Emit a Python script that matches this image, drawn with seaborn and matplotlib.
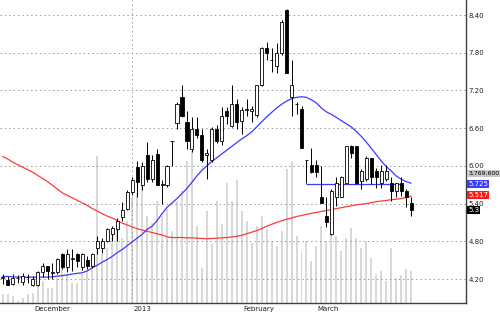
import matplotlib
matplotlib.use("Agg")
import matplotlib.pyplot as plt
import matplotlib.transforms as mtransforms
import numpy as np
import seaborn as sns

sns.set_theme(style="white")
plt.rcParams['font.family'] = ['DejaVu Sans']

# ---------------- data ----------------
opens = [4.22, 4.19, 4.12, 4.22, 4.16, 4.23, 4.11, 4.10, 4.31, 4.40, 4.29, 4.31, 4.60, 4.39, 4.52, 4.60,
         4.39, 4.50, 4.40, 4.70, 4.70, 4.81, 4.91, 5.00, 5.18, 5.32, 5.58, 5.98, 5.70, 6.18, 5.79, 6.19,
         5.70, 5.70, 6.39, 6.68, 7.10, 6.70, 6.27, 6.59, 6.49, 6.18, 6.09, 6.59, 6.40, 6.88, 6.63, 6.99,
         6.72, 6.89, 6.88, 6.81, 7.28, 7.88, 7.68, 7.59, 7.79, 8.48, 7.09, 6.98, 6.90, 6.10, 6.01, 6.01,
         5.51, 5.21, 4.91, 5.50, 5.51, 5.72, 6.31, 6.31, 5.76, 5.79, 6.12, 5.92, 5.72, 5.79, 5.72, 5.60,
         5.72, 5.60, 5.41]
highs = [4.28, 4.24, 4.28, 4.27, 4.29, 4.28, 4.24, 4.33, 4.45, 4.41, 4.45, 4.54, 4.62, 4.68, 4.68, 4.61,
         4.62, 4.57, 4.62, 4.89, 4.86, 5.01, 5.05, 5.17, 5.42, 5.61, 5.82, 6.08, 6.06, 6.38, 6.17, 6.27,
         5.77, 6.01, 6.40, 7.02, 7.28, 6.88, 6.77, 6.78, 6.59, 6.27, 6.62, 6.65, 6.94, 6.94, 7.28, 7.07,
         6.94, 7.07, 6.96, 7.29, 7.89, 7.97, 7.87, 7.95, 8.32, 8.49, 7.68, 7.02, 6.96, 6.10, 6.29, 6.10,
         6.00, 5.51, 5.63, 5.82, 5.84, 6.31, 6.33, 6.32, 5.95, 6.16, 6.12, 5.97, 6.01, 6.01, 5.82, 5.73,
         5.82, 5.63, 5.50]
lows = [4.12, 4.10, 4.10, 4.14, 4.11, 4.14, 4.09, 4.09, 4.23, 4.20, 4.20, 4.28, 4.36, 4.31, 4.33, 4.39,
        4.35, 4.36, 4.38, 4.60, 4.62, 4.79, 4.81, 4.81, 5.13, 5.29, 5.53, 5.50, 5.61, 5.74, 5.74, 5.69,
        5.40, 5.66, 5.99, 6.59, 6.78, 6.27, 6.22, 6.45, 6.06, 5.79, 6.06, 6.36, 6.33, 6.67, 6.62, 6.59,
        6.51, 6.80, 6.70, 6.78, 7.27, 7.68, 7.50, 7.48, 7.76, 7.48, 6.79, 6.83, 6.28, 5.72, 5.89, 5.83,
        5.41, 5.02, 4.90, 5.36, 5.50, 5.71, 6.13, 5.71, 5.63, 5.76, 5.71, 5.64, 5.64, 5.76, 5.44, 5.51,
        5.52, 5.34, 5.21]
closes = [4.23, 4.11, 4.22, 4.22, 4.24, 4.23, 4.20, 4.31, 4.40, 4.32, 4.31, 4.52, 4.39, 4.60, 4.53, 4.49,
          4.60, 4.40, 4.60, 4.81, 4.81, 5.00, 5.01, 5.12, 5.30, 5.58, 5.78, 5.74, 5.99, 5.79, 6.10, 5.70,
          5.71, 5.99, 6.40, 6.99, 6.80, 6.40, 6.59, 6.49, 6.09, 6.20, 6.59, 6.40, 6.79, 6.79, 6.99, 6.70,
          6.89, 6.90, 6.90, 7.28, 7.88, 7.79, 7.69, 7.80, 8.29, 7.48, 7.28, 6.99, 6.28, 6.10, 5.90, 5.90,
          5.41, 5.11, 5.60, 5.72, 5.82, 6.31, 6.21, 5.72, 5.92, 6.12, 5.82, 5.82, 5.92, 5.92, 5.60, 5.72,
          5.60, 5.51, 5.30]
volume_m = [1.06, 1.06, 0.82, 0.24, 0.59, 1.06, 1.18, 3.42, 2.59, 1.77, 1.77, 2.95, 4.12, 3.42, 2.36, 2.36,
            3.42, 3.77, 5.30, 17.32, 5.77, 6.48, 7.66, 8.84, 7.66, 9.66, 12.37, 12.96, 13.78, 10.25, 9.42, 12.02,
            10.25, 11.07, 8.48, 12.02, 13.19, 16.73, 17.91, 9.07, 4.12, 10.84, 6.95, 12.02, 9.31, 14.14, 12.02, 14.49,
            10.84, 9.66, 7.07, 9.07, 10.25, 8.72, 7.30, 6.71, 8.48, 15.79, 16.73, 7.89, 6.13, 7.30, 4.95, 6.71,
            9.07, 7.30, 10.25, 7.89, 6.13, 7.66, 8.84, 7.66, 6.48, 7.30, 5.30, 3.42, 3.77, 2.59, 6.48, 2.95,
            3.30, 4.01, 3.7696]
sma_short = [4.24, 4.24, 4.235, 4.23, 4.23, 4.23, 4.23, 4.23, 4.23, 4.23, 4.235, 4.245, 4.255, 4.265, 4.28, 4.29,
             4.30, 4.33, 4.38, 4.42, 4.47, 4.51, 4.56, 4.62, 4.67, 4.73, 4.79, 4.85, 4.91, 4.99, 5.04, 5.13,
             5.24, 5.34, 5.41, 5.48, 5.56, 5.64, 5.74, 5.84, 5.93, 6.00, 6.07, 6.13, 6.19, 6.25, 6.31, 6.37,
             6.43, 6.48, 6.54, 6.62, 6.70, 6.78, 6.85, 6.92, 6.98, 7.03, 7.07, 7.09, 7.10, 7.09, 7.05, 7.00,
             6.92, 6.86, 6.82, 6.77, 6.72, 6.67, 6.62, 6.55, 6.47, 6.38, 6.28, 6.18, 6.08, 5.99, 5.92, 5.84,
             5.79, 5.75, 5.725]
sma_long = [6.15, 6.11, 6.06, 6.02, 5.98, 5.94, 5.90, 5.85, 5.80, 5.75, 5.69, 5.63, 5.57, 5.53, 5.49, 5.45,
            5.41, 5.37, 5.32, 5.28, 5.24, 5.20, 5.17, 5.13, 5.09, 5.06, 5.03, 5.00, 4.98, 4.96, 4.94, 4.92,
            4.90, 4.87, 4.86, 4.86, 4.86, 4.855, 4.855, 4.85, 4.845, 4.84, 4.845, 4.85, 4.855, 4.86, 4.87, 4.88,
            4.895, 4.92, 4.945, 4.97, 5.00, 5.04, 5.07, 5.10, 5.125, 5.15, 5.17, 5.195, 5.21, 5.23, 5.245, 5.26,
            5.275, 5.29, 5.305, 5.32, 5.335, 5.35, 5.365, 5.38, 5.39, 5.40, 5.415, 5.43, 5.44, 5.45, 5.46, 5.47,
            5.48, 5.50, 5.517]
support_level = 5.715
support_span = [61, 80.2]
month_ticks = [6, 26, 48, 63]
month_labels = ["December", "2013", "February", "March"]
price_ticks = [4.20, 4.80, 5.40, 6.00, 6.60, 7.20, 7.80, 8.40]
last_volume_label = "3,769,600"
short_label = "5.725"
long_label = "5.517"
close_label = "5.3"

idx = np.arange(len(closes))
O = np.array(opens); H = np.array(highs); L = np.array(lows); C = np.array(closes)

# ---------------- figure ----------------
fig = plt.figure(figsize=(5, 3.12), dpi=100)
fig.patch.set_facecolor("white")
ax = fig.add_axes([0, 0.0298, 0.932, 0.9702])
ax_vol = ax.twinx()

# volume bars
sns.barplot(x=idx, y=volume_m, ax=ax_vol, color="#d8d8d8", saturation=1,
            width=0.4, errorbar=None, linewidth=0)
ax_vol.set_ylim(0, 35.66)
ax_vol.set_yticks([])
ax_vol.set_ylabel("")
ax_vol.set_xlabel("")
for s in ax_vol.spines.values():
    s.set_visible(False)

ax.set_zorder(ax_vol.get_zorder() + 1)
ax.patch.set_visible(False)

# grid
grid_kw = dict(color="#9a9a9a", lw=0.7, ls=(0, (1.5, 3)), zorder=0.5)
for p in price_ticks:
    ax.axhline(p, **grid_kw)
ax.axvline(26, **grid_kw)

# moving averages
sns.lineplot(x=idx, y=sma_long, ax=ax, color="#ff3a3a", lw=0.9, zorder=2)
sns.lineplot(x=idx, y=sma_short, ax=ax, color="#3a3aff", lw=0.9, zorder=2)
ax.hlines(support_level, support_span[0], support_span[1], color="#3a3aff", lw=0.9, zorder=2)

# candles
ax.vlines(idx, L, H, color="black", lw=0.7, zorder=3)
up = C >= O
body_bottom = np.minimum(O, C)
body_h = np.abs(C - O)
ax.bar(idx[up], body_h[up], bottom=body_bottom[up], width=0.62,
       color="white", edgecolor="black", linewidth=0.6, zorder=4)
ax.bar(idx[~up], body_h[~up], bottom=body_bottom[~up], width=0.62,
       color="black", edgecolor="black", linewidth=0.6, zorder=4)

# axes limits
ax.set_xlim(-0.54, 93.03)
ax.set_ylim(3.823, 8.639)

# spines
for side in ["left", "top"]:
    ax.spines[side].set_visible(False)
for side in ["right", "bottom"]:
    ax.spines[side].set_color("#404040")
    ax.spines[side].set_linewidth(1.0)

# y ticks right
ax.yaxis.tick_right()
ax.set_yticks(price_ticks)
ax.set_yticklabels([f"{p:.2f}" for p in price_ticks])
ax.tick_params(axis="y", length=0, pad=2, labelsize=5, colors="#202020")

# x ticks
ax.set_xticks(month_ticks)
ax.set_xticklabels(month_labels, ha="left")
ax.tick_params(axis="x", length=2, width=0.6, direction="out", pad=0.5,
               labelsize=5, colors="#202020")
offset = mtransforms.ScaledTranslation(1.0 / 72, 0, fig.dpi_scale_trans)
for lab in ax.get_xticklabels():
    lab.set_transform(lab.get_transform() + offset)
ax.set_xlabel("")
ax.set_ylabel("")

# value boxes on right
trans = mtransforms.blended_transform_factory(ax.transAxes, ax.transData)
box_specs = [
    (last_volume_label, 5.875, "#c8c8c8", "black", 4.4),
    (short_label, 5.71, "#3c3cff", "white", 5),
    (long_label, 5.535, "#ff1a1a", "white", 5),
    (close_label, 5.295, "black", "white", 5),
]
for txt, yv, bg, fg, fs in box_specs:
    ax.text(1.005, yv, txt, transform=trans, fontsize=fs, color=fg, va="center", ha="left",
            zorder=10, clip_on=False,
            bbox=dict(boxstyle="square,pad=0.15", fc=bg, ec="none"))

fig.savefig("out.png", dpi=100, facecolor="white")
